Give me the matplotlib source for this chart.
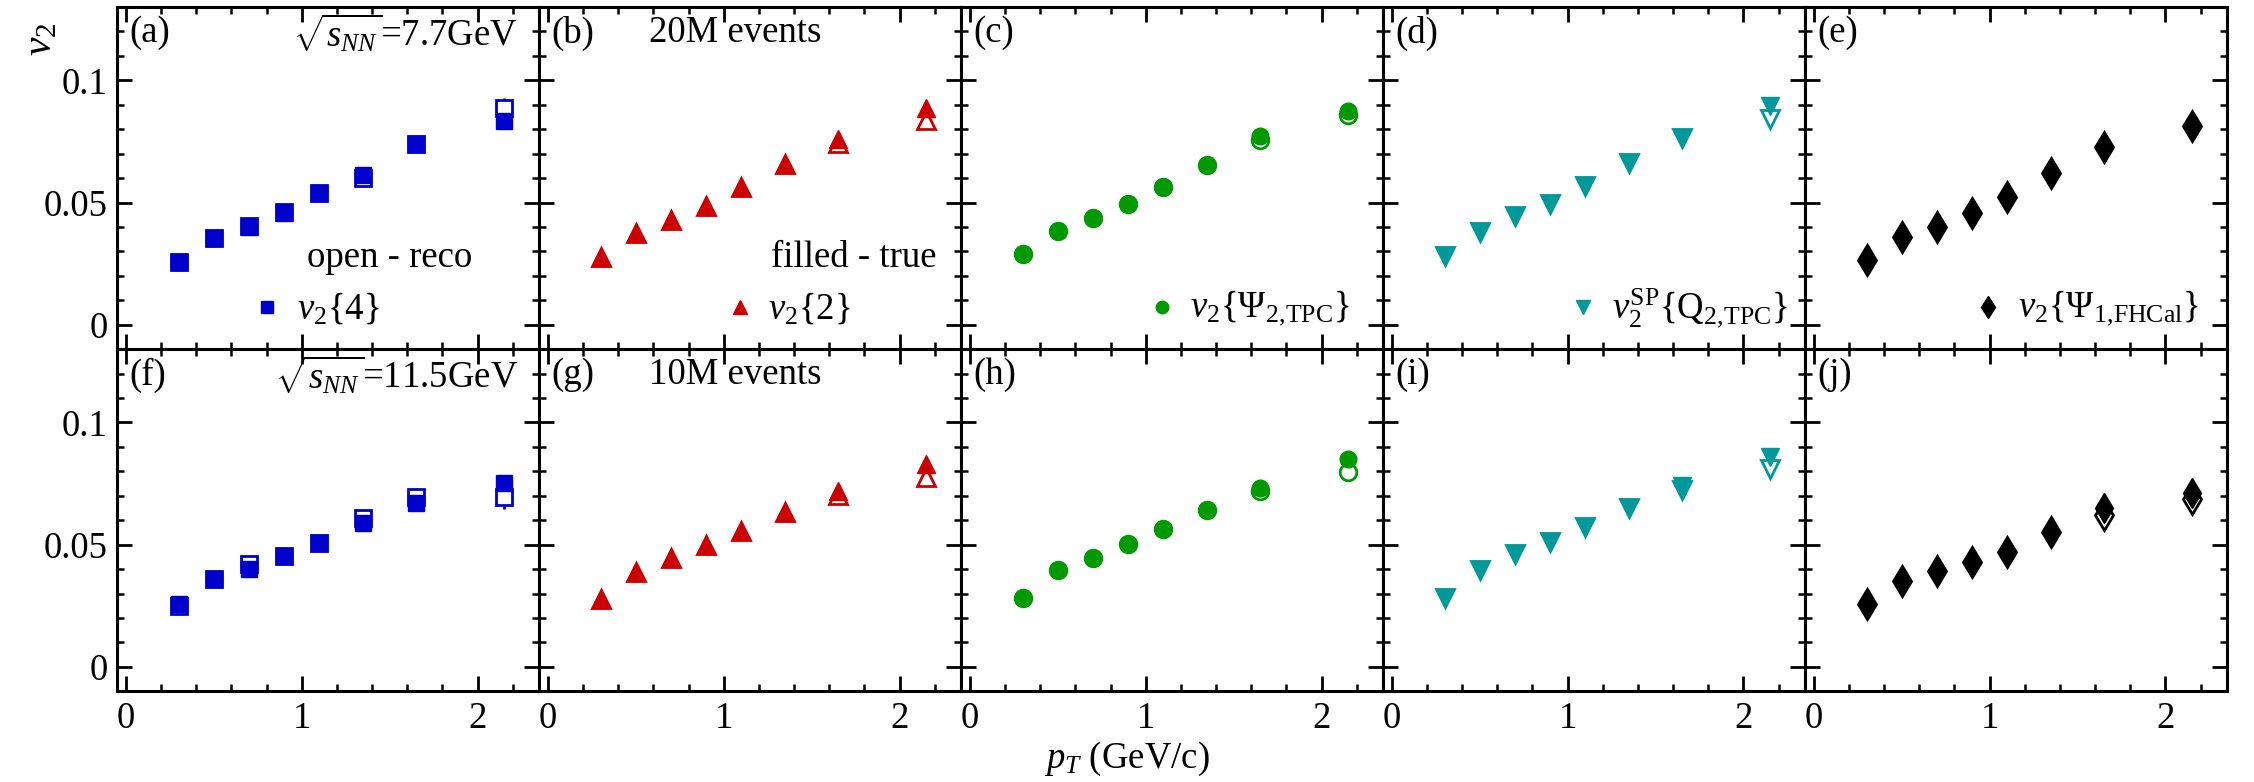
import matplotlib
matplotlib.use("Agg")
import matplotlib.pyplot as plt
import numpy as np

plt.rcParams["font.family"] = ["Liberation Serif", "DejaVu Serif"]
plt.rcParams["mathtext.fontset"] = "custom"
plt.rcParams["mathtext.rm"] = "Liberation Serif"
plt.rcParams["mathtext.it"] = "Liberation Serif:italic"
plt.rcParams["mathtext.bf"] = "Liberation Serif:bold"

# pT bin centres (GeV/c)
pt = [0.3, 0.5, 0.7, 0.9, 1.1, 1.35, 1.65, 2.15]

# top row: sqrt(sNN)=7.7 GeV, bottom row: 11.5 GeV ; "true" = filled, "reco" = open
v24_true_77 = [0.0255, 0.0353, 0.0401, 0.0459, 0.0541, 0.0612, 0.0740, 0.0833]
v24_reco_77 = [0.0255, 0.0355, 0.0402, 0.0461, 0.0541, 0.0600, 0.0738, 0.0887]
v24_err_77 = [0.0005, 0.0006, 0.0007, 0.0008, 0.0010, 0.0012, 0.0025, 0.0040]
v22_true_77 = [0.0276, 0.0374, 0.0429, 0.0486, 0.0564, 0.0656, 0.0758, 0.0887]
v22_reco_77 = [0.0276, 0.0374, 0.0429, 0.0486, 0.0564, 0.0656, 0.0745, 0.0837]
vep_true_77 = [0.0290, 0.0385, 0.0436, 0.0493, 0.0564, 0.0654, 0.0772, 0.0874]
vep_reco_77 = [0.0290, 0.0385, 0.0436, 0.0493, 0.0564, 0.0654, 0.0757, 0.0860]
vsp_true_77 = [0.0283, 0.0378, 0.0439, 0.0493, 0.0568, 0.0663, 0.0765, 0.0897]
vsp_reco_77 = [0.0283, 0.0378, 0.0443, 0.0493, 0.0568, 0.0663, 0.0765, 0.0840]
vfh_true_77 = [0.0265, 0.0357, 0.0401, 0.0459, 0.0523, 0.0622, 0.0727, 0.0813]
vfh_reco_77 = [0.0265, 0.0357, 0.0401, 0.0459, 0.0523, 0.0622, 0.0727, 0.0813]

v24_true_115 = [0.0256, 0.0359, 0.0400, 0.0452, 0.0508, 0.0587, 0.0670, 0.0753]
v24_reco_115 = [0.0250, 0.0359, 0.0420, 0.0452, 0.0508, 0.0610, 0.0695, 0.0697]
v24_err_115 = [0.0005, 0.0006, 0.0008, 0.0008, 0.0010, 0.0015, 0.0035, 0.0050]
v22_true_115 = [0.0276, 0.0389, 0.0444, 0.0500, 0.0556, 0.0635, 0.0720, 0.0832]
v22_reco_115 = [0.0276, 0.0389, 0.0444, 0.0500, 0.0556, 0.0635, 0.0703, 0.0777]
vep_true_115 = [0.0280, 0.0396, 0.0446, 0.0501, 0.0564, 0.0640, 0.0732, 0.0850]
vep_reco_115 = [0.0280, 0.0396, 0.0446, 0.0501, 0.0564, 0.0640, 0.0720, 0.0797]
vsp_true_115 = [0.0283, 0.0396, 0.0460, 0.0511, 0.0573, 0.0650, 0.0739, 0.0860]
vsp_reco_115 = [0.0283, 0.0396, 0.0460, 0.0511, 0.0573, 0.0650, 0.0722, 0.0810]
vfh_true_115 = [0.0256, 0.0352, 0.0394, 0.0431, 0.0472, 0.0552, 0.0649, 0.0711]
vfh_reco_115 = [0.0256, 0.0352, 0.0394, 0.0431, 0.0472, 0.0552, 0.0622, 0.0687]

methods = ["v24", "v22", "vep", "vsp", "vfh"]
colors = {"v24": "#0000cc", "v22": "#cc0000", "vep": "#009a00", "vsp": "#009999", "vfh": "black"}
markers = {"v24": "s", "v22": "^", "vep": "o", "vsp": "v", "vfh": "d"}
msize = {"v24": 12, "v22": 13, "vep": 12, "vsp": 13, "vfh": 15}
leg_text = {
    "v24": r"$v_2\{4\}$",
    "v22": r"$v_2\{2\}$",
    "vep": r"$v_2\{\Psi_{\mathrm{2,\!TPC}}\}$",
    "vsp": r"$v_2^{\mathrm{SP}}\{\mathrm{Q}_{\mathrm{2,\!TPC}}\}$",
    "vfh": r"$v_2\{\Psi_{\mathrm{1,\!FHCal}}\}$",
}
leg_x = {"v24": (0.80, 0.97), "v22": (1.09, 1.25), "vep": (1.09, 1.25),
         "vsp": (1.09, 1.25), "vfh": (0.99, 1.16)}

true_rows = [[v24_true_77, v22_true_77, vep_true_77, vsp_true_77, vfh_true_77],
             [v24_true_115, v22_true_115, vep_true_115, vsp_true_115, vfh_true_115]]
reco_rows = [[v24_reco_77, v22_reco_77, vep_reco_77, vsp_reco_77, vfh_reco_77],
             [v24_reco_115, v22_reco_115, vep_reco_115, vsp_reco_115, vfh_reco_115]]
err_rows = [v24_err_77, v24_err_115]
panel_tags = [["(a)", "(b)", "(c)", "(d)", "(e)"], ["(f)", "(g)", "(h)", "(i)", "(j)"]]
energies = [r"$\sqrt{s_{NN}}$=7.7GeV", r"$\sqrt{s_{NN}}$=11.5GeV"]
nevents = ["20M events", "10M events"]

fig, axes = plt.subplots(2, 5, figsize=(22.54, 7.82), dpi=100, sharex=True, sharey=True)
fig.subplots_adjust(left=0.052, right=0.988, top=0.991, bottom=0.116, wspace=0, hspace=0)

fs = 26.5
for r in range(2):
    for c, m in enumerate(methods):
        ax = axes[r][c]
        col = colors[m]
        err = err_rows[r] if m == "v24" else None
        ax.errorbar(pt, reco_rows[r][c], yerr=err, fmt=markers[m], ms=msize[m],
                    mfc="white", mec=col, mew=2, ecolor=col, elinewidth=2, capsize=0,
                    zorder=3)
        ax.plot(pt, true_rows[r][c], markers[m], ms=msize[m], color=col,
                mec=col, zorder=4)

        ax.set_xlim(-0.05, 2.35)
        ax.set_ylim(-0.01, 0.13)
        ax.set_xticks([0, 1, 2])
        ax.set_xticks(np.arange(0, 2.4, 0.2), minor=True)
        ax.set_yticks([0, 0.05, 0.1])
        ax.set_yticklabels(["0", "0.05", "0.1"])
        ax.set_yticks(np.arange(0, 0.131, 0.01), minor=True)
        ax.tick_params(which="both", direction="in", top=True, right=True,
                       labelsize=fs, width=2, pad=7)
        ax.tick_params(which="major", length=11)
        ax.tick_params(which="minor", length=5, width=1.8)
        for s in ax.spines.values():
            s.set_linewidth(2.2)

        ax.text(0.03, 0.975, panel_tags[r][c], transform=ax.transAxes,
                ha="left", va="top", fontsize=fs)

        if r == 0:
            mx, tx = leg_x[m]
            ax.plot([mx], [0.0072], markers[m], ms=msize[m] * 0.75, color=col)
            ax.text(tx, 0.0065, leg_text[m], fontsize=fs, ha="left", va="center")

    axes[r][0].text(0.95, 0.985, energies[r], transform=axes[r][0].transAxes,
                    ha="right", va="top", fontsize=fs)
    axes[r][1].text(0.26, 0.975, nevents[r], transform=axes[r][1].transAxes,
                    ha="left", va="top", fontsize=fs)

axes[0][0].text(1.03, 0.0276, "open - reco", fontsize=fs, ha="left", va="center")
axes[0][1].text(1.27, 0.0276, "filled - true", fontsize=fs, ha="left", va="center")

fig.text(0.018, 0.95, r"$v_2$", rotation=90, fontsize=30, ha="center", va="center")
fig.text(0.5, 0.03, r"$p_T$ (GeV/c)", fontsize=fs, ha="center", va="center")

fig.savefig("out.png", dpi=100)
